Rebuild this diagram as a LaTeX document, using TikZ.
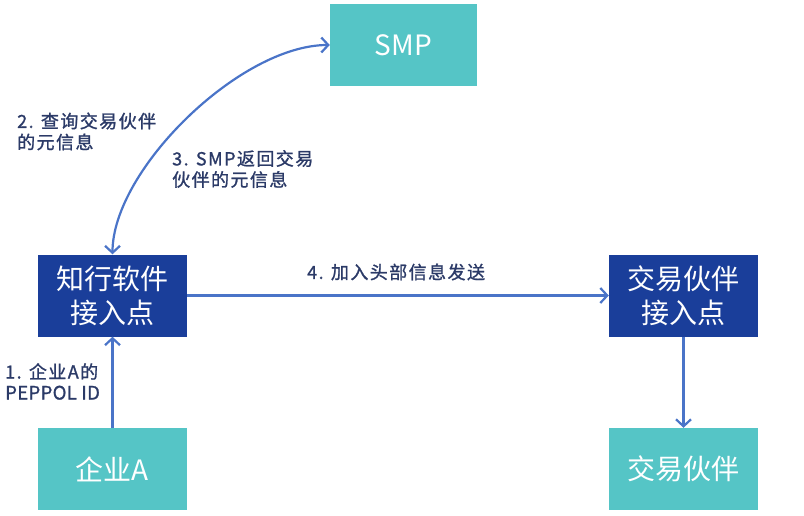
\documentclass[tikz,border=0pt]{standalone}
\usepackage{fontspec}
\setmainfont{Noto Sans CJK SC}
\newfontfamily\lblfont[FakeBold=1.2,LetterSpace=8]{Noto Sans CJK SC}
\newfontfamily\lbllatin[FakeBold=1.2,LetterSpace=2]{Noto Sans CJK SC}
\usetikzlibrary{arrows.meta}
\definecolor{tealbox}{HTML}{55C5C6}
\definecolor{darkbox}{HTML}{1A3E9A}
\definecolor{arrowc}{HTML}{4A74C8}
\definecolor{lblc}{HTML}{2B3A67}
\tikzset{barb/.tip={Straight Barb[length=7pt,width=15pt,line width=2.2pt]}}
\begin{document}
\begin{tikzpicture}[x=1pt,y=-1pt,
  box/.style={minimum width=149pt,minimum height=82pt,inner sep=0pt,text=white,
    font=\fontsize{28}{34}\selectfont,align=center},
  lbl/.style={anchor=west,inner sep=0pt,align=left,text=lblc,
    font=\lblfont\fontsize{18}{21}\selectfont},
  arr/.style={draw=arrowc,line width=2.2pt,-barb}]
\useasboundingbox (0,0) rectangle (804,516);
\node[box,fill=tealbox,minimum width=147pt] (smp) at (403.5,45) {SMP};
\node[box,fill=darkbox] (ap) at (112.5,295.5) {知行软件\\接入点};
\node[box,fill=tealbox] (ca) at (112.5,469) {企业A};
\node[box,fill=darkbox] (tp) at (683.5,295.5) {交易伙伴\\接入点};
\node[box,fill=tealbox] (tr) at (683.5,469) {交易伙伴};
\draw[arr,barb-barb]
  (smp.west) .. controls (240,45) and (112.5,170) .. (ap.north);
\draw[arr] (ca.north) -- (ap.south);
\draw[arr] (ap.east) -- (tp.west);
\draw[arr] (tp.south) -- (tr.north);
\node[lbl] (l2) at (17,131.5) {2. 查询交易伙伴\\的元信息};
\node[lbl] (l3) at (172,169) {3. SMP返回交易\\伙伴的元信息};
\node[lbl] (l4) at (307,272) {4. 加入头部信息发送};
\node[lbl] (l1) at (5,381.5) {1. 企业A的\\{\lbllatin\fontsize{18.5}{21}\selectfont PEPPOL ID}};
\end{tikzpicture}
\end{document}
